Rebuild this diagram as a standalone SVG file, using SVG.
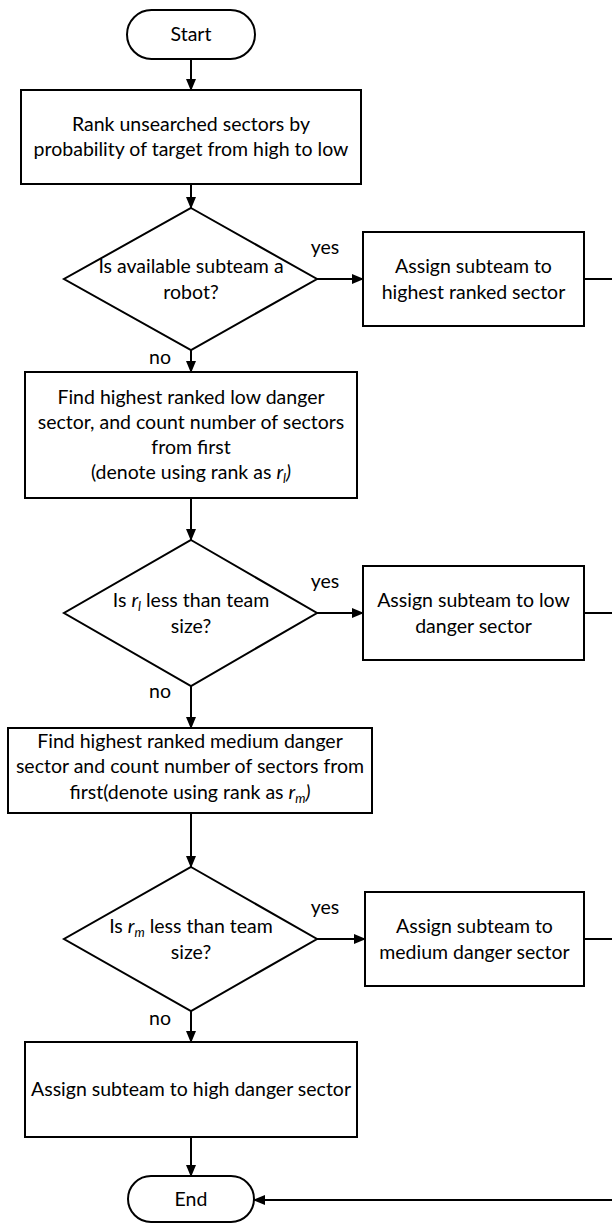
<svg xmlns="http://www.w3.org/2000/svg" width="612" height="1224" viewBox="0 0 612 1224">
<style>
.s{fill:#fff;stroke:#000;stroke-width:2}
.c{fill:none;stroke:#000;stroke-width:2}
.t{font-family:Lato,"Liberation Sans",sans-serif;font-size:19.5px;fill:#000;text-anchor:middle}
.i{font-style:italic}
.sub{font-style:italic;font-size:13px}
</style>
<defs>
<marker id="ah" markerUnits="userSpaceOnUse" markerWidth="12" markerHeight="12" refX="11" refY="5" orient="auto" viewBox="0 0 12 10">
<path d="M0,0 L12,5 L0,10 z" fill="#000"/>
</marker>
</defs>
<rect width="612" height="1224" fill="#fff"/>
<g id="connectors">
<line class="c" x1="191" y1="59" x2="191" y2="90" marker-end="url(#ah)"/>
<line class="c" x1="191" y1="184" x2="191" y2="208" marker-end="url(#ah)"/>
<line class="c" x1="317" y1="279" x2="363" y2="279" marker-end="url(#ah)"/>
<line class="c" x1="584" y1="279" x2="612" y2="279"/>
<line class="c" x1="191" y1="350" x2="191" y2="372" marker-end="url(#ah)"/>
<line class="c" x1="191" y1="498" x2="191" y2="540" marker-end="url(#ah)"/>
<line class="c" x1="317" y1="613" x2="363" y2="613" marker-end="url(#ah)"/>
<line class="c" x1="584" y1="613" x2="612" y2="613"/>
<line class="c" x1="191" y1="686" x2="191" y2="728" marker-end="url(#ah)"/>
<line class="c" x1="191" y1="813" x2="191" y2="867" marker-end="url(#ah)"/>
<line class="c" x1="317" y1="939" x2="365" y2="939" marker-end="url(#ah)"/>
<line class="c" x1="584" y1="939" x2="612" y2="939"/>
<line class="c" x1="191" y1="1011" x2="191" y2="1042" marker-end="url(#ah)"/>
<line class="c" x1="191" y1="1137" x2="191" y2="1176" marker-end="url(#ah)"/>
<line class="c" x1="612" y1="1200" x2="254" y2="1200" marker-end="url(#ah)"/>
<text class="t" x="325" y="254">yes</text>
<text class="t" x="160" y="364">no</text>
<text class="t" x="325" y="588">yes</text>
<text class="t" x="160" y="698">no</text>
<text class="t" x="325" y="914">yes</text>
<text class="t" x="160" y="1025">no</text>
</g>
<g id="start">
<rect class="s" x="127" y="10" width="128" height="49" rx="24.5"/>
<text class="t" x="191" y="41">Start</text>
</g>
<g id="rank">
<rect class="s" x="21" y="90" width="340" height="94"/>
<text class="t" x="191" y="131">Rank unsearched sectors by</text>
<text class="t" x="191" y="156">probability of target from high to low</text>
</g>
<g id="d1">
<polygon class="s" points="191,208 317,279 191,350 64,279"/>
<text class="t" x="191" y="273">Is available subteam a</text>
<text class="t" x="191" y="299">robot?</text>
</g>
<g id="a1">
<rect class="s" x="363" y="232" width="221" height="94"/>
<text class="t" x="473.5" y="273">Assign subteam to</text>
<text class="t" x="473.5" y="299">highest ranked sector</text>
</g>
<g id="low">
<rect class="s" x="25" y="372" width="332" height="126"/>
<text class="t" x="191" y="404">Find highest ranked low danger</text>
<text class="t" x="191" y="429">sector, and count number of sectors</text>
<text class="t" x="191" y="454">from first</text>
<text class="t" x="191" y="479">(denote using rank as <tspan class="i">r</tspan><tspan class="sub" dy="4">l</tspan><tspan class="i" dy="-4">)</tspan></text>
</g>
<g id="d2">
<polygon class="s" points="191,540 317,613 191,686 64,613"/>
<text class="t" x="191" y="607">Is <tspan class="i">r</tspan><tspan class="sub" dy="4">l</tspan><tspan dy="-4"> less than team</tspan></text>
<text class="t" x="191" y="633">size?</text>
</g>
<g id="a2">
<rect class="s" x="363" y="566" width="221" height="94"/>
<text class="t" x="473.5" y="607">Assign subteam to low</text>
<text class="t" x="473.5" y="633">danger sector</text>
</g>
<g id="medium">
<rect class="s" x="8" y="728" width="364" height="85"/>
<text class="t" x="190" y="748">Find highest ranked medium danger</text>
<text class="t" x="190" y="773">sector and count number of sectors from</text>
<text class="t" x="190" y="799">first(denote using rank as <tspan class="i">r</tspan><tspan class="sub" dy="4">m</tspan><tspan dy="-4" class="i">)</tspan></text>
</g>
<g id="d3">
<polygon class="s" points="191,867 317,939 191,1011 64,939"/>
<text class="t" x="191" y="933">Is <tspan class="i">r</tspan><tspan class="sub" dy="4">m</tspan><tspan dy="-4"> less than team</tspan></text>
<text class="t" x="191" y="959">size?</text>
</g>
<g id="a3">
<rect class="s" x="365" y="892" width="219" height="94"/>
<text class="t" x="474.5" y="933">Assign subteam to</text>
<text class="t" x="474.5" y="959">medium danger sector</text>
</g>
<g id="high">
<rect class="s" x="25" y="1042" width="332" height="95"/>
<text class="t" x="191" y="1096">Assign subteam to high danger sector</text>
</g>
<g id="end">
<rect class="s" x="128" y="1176" width="126" height="46" rx="23"/>
<text class="t" x="191" y="1206">End</text>
</g>
</svg>
